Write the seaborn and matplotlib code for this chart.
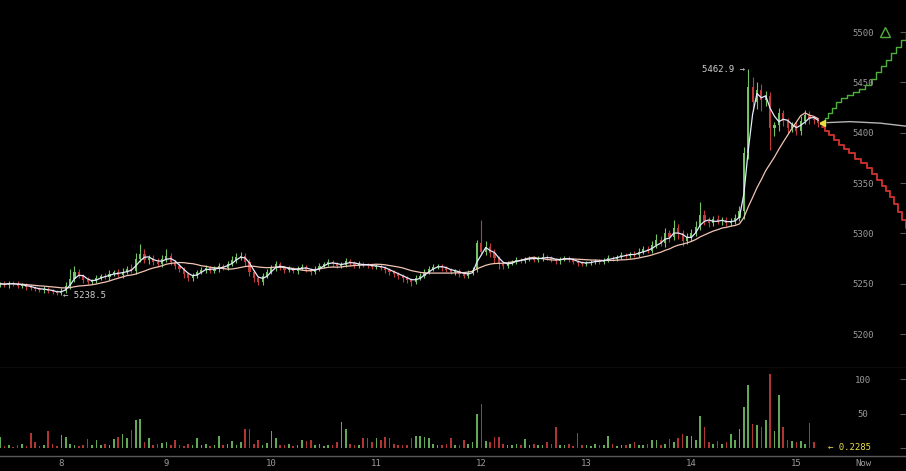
import numpy as np
import pandas as pd
import seaborn as sns
import matplotlib.pyplot as plt

# hourly candles, first one starts at day 7.42
start_day = 7.42
first_open = 5249

close = [5250, 5249, 5251, 5250, 5248, 5249, 5247, 5246, 5245, 5244, 5245, 5243, 5242, 5241,
         5243, 5248, 5255, 5262, 5258, 5254, 5252, 5253, 5256,
         5258, 5257, 5260, 5262, 5259, 5262, 5265, 5263, 5275,
         5280, 5274, 5276, 5272, 5270, 5275,
         5278, 5272, 5268, 5265, 5260, 5256, 5258,
         5262, 5264, 5266, 5263, 5265, 5268, 5266, 5270, 5274, 5277,
         5278, 5272, 5262, 5256, 5252, 5258, 5262,
         5266, 5270, 5266, 5264, 5265, 5263, 5266, 5267, 5264,
         5262, 5265, 5268, 5270, 5272, 5270, 5268, 5269, 5273, 5271, 5268, 5270, 5269, 5268, 5267,
         5268, 5266, 5264, 5262, 5260, 5258, 5256, 5254, 5252, 5256, 5258, 5262,
         5265, 5267, 5268, 5266, 5264, 5262, 5263, 5260, 5258, 5261, 5264, 5290,
         5282, 5286, 5281, 5276, 5270, 5268, 5271,
         5272, 5274, 5273, 5275, 5276, 5274, 5275, 5277, 5276, 5274, 5273, 5275, 5276, 5274, 5272, 5271, 5270,
         5271, 5272, 5273, 5272, 5274, 5276, 5275, 5277, 5279, 5278, 5280, 5279,
         5282, 5284, 5283, 5288, 5293, 5290, 5300, 5296, 5305, 5300, 5292, 5296,
         5300, 5306, 5318, 5312, 5310, 5314, 5312, 5313, 5310, 5312, 5315, 5322,
         5380, 5445, 5430, 5442, 5432, 5436,
         5405, 5408, 5420, 5412, 5405, 5408,
         5402, 5412, 5418, 5414, 5413, 5410]

upper_wick = [2, 3, 2, 2, 3, 2, 2, 3, 2, 2, 3, 2, 2, 2,
              3, 4, 10, 6, 3, 2, 3, 2, 3,
              2, 3, 4, 2, 3, 4, 3, 5, 6,
              9, 4, 3, 3, 4, 4,
              6, 3, 2, 3, 2, 2, 3,
              2, 3, 3, 2, 3, 3, 2, 3, 4, 4,
              4, 3, 3, 2, 2, 3, 3,
              3, 3, 2, 2, 3, 2, 2, 3, 2,
              2, 3, 3, 2, 3, 2, 2, 3, 3, 2, 2, 3, 2, 2, 2,
              2, 2, 2, 2, 2, 2, 2, 2, 2, 3, 3, 3,
              3, 3, 2, 2, 2, 2, 2, 2, 2, 3, 3, 3,
              23, 6, 4, 3, 2, 2, 2,
              2, 3, 2, 2, 2, 2, 3, 4, 2, 2, 2, 2, 2, 2, 2, 2, 2,
              2, 2, 2, 2, 2, 3, 2, 2, 3, 2, 2, 3,
              3, 3, 3, 4, 6, 4, 5, 3, 8, 4, 3, 4,
              4, 6, 13, 5, 4, 3, 4, 3, 3, 3, 4, 5,
              6, 17.9, 10, 8, 6, 5,
              4, 3, 5, 3, 3, 3,
              3, 5, 5, 4, 3, 2]

lower_wick = [2, 2, 3, 2, 2, 2, 3, 2, 2, 2, 3, 2, 2, 2,
              2.5, 2, 3, 3, 2, 3, 2, 2, 2,
              2, 2, 3, 2, 2, 3, 2, 2, 3,
              3, 3, 4, 3, 3, 3,
              3, 3, 3, 3, 4, 3, 3,
              2, 2, 3, 2, 2, 3, 2, 2, 2, 3,
              3, 4, 4, 4, 3, 3, 2,
              2, 3, 2, 3, 2, 2, 3, 2, 2,
              3, 2, 2, 2, 2, 3, 2, 2, 2, 3, 2, 2, 2, 2, 2,
              2, 2, 3, 3, 3, 3, 4, 3, 4, 2, 2, 2,
              2, 2, 2, 3, 2, 2, 3, 3, 2, 2, 2, 2,
              3, 3, 4, 5, 5, 3, 2,
              2, 2, 2, 2, 2, 2, 2, 2, 2, 2, 3, 3, 2, 2, 2, 3, 2,
              2, 2, 2, 2, 2, 2, 2, 2, 2, 2, 2, 2,
              2, 2, 2, 2, 3, 3, 4, 5, 3, 6, 5, 3,
              4, 3, 3, 4, 4, 3, 3, 4, 3, 3, 3, 3,
              8, 6, 8, 6, 10, 5,
              22, 8, 6, 5, 5, 4,
              4, 4, 3, 5, 4, 4]

volume = [16, 3, 5, 2, 4, 6, 3, 22, 8, 3, 4, 24, 6, 3,
          19, 16, 6, 4, 3, 5, 13, 4, 12,
          5, 6, 4, 13, 16, 20, 15, 26, 40,
          42, 8, 14, 5, 6, 7,
          9, 4, 11, 5, 3, 6, 4,
          15, 4, 6, 3, 5, 18, 4, 6, 10, 4,
          8, 27, 27, 6, 12, 5, 7,
          24, 15, 5, 4, 6, 3, 5, 12, 10,
          12, 4, 6, 3, 5, 4, 8, 37, 28, 6, 5, 4, 15, 14, 8,
          15, 12, 16, 15, 6, 5, 4, 5, 15, 17, 18, 16,
          15, 6, 4, 5, 6, 15, 4, 5, 12, 6, 8, 50,
          64, 10, 8, 16, 16, 6, 5,
          4, 6, 5, 13, 4, 6, 5, 4, 8, 6, 30, 5, 4, 6, 3, 22, 5,
          4, 3, 6, 5, 4, 18, 6, 3, 5, 4, 6, 8,
          5, 4, 6, 12, 12, 5, 6, 13, 8, 15, 20, 17,
          18, 12, 46, 30, 8, 6, 10, 6, 8, 20, 12, 27,
          60, 91, 35, 33, 30, 40,
          107, 25, 77, 30, 12, 10,
          8, 10, 6, 36, 8, 0.2285]

day_ticks = [8, 9, 10, 11, 12, 13, 14, 15]
day_labels = ['8', '9', '10', '11', '12', '13', '14', '15']
now_day = 15.638
price_ticks = [5200, 5250, 5300, 5350, 5400, 5450, 5500]
vol_ticks = [0, 50, 100]

# order book depth (right side)
ask_depth = [2, 5, 8, 12, 16, 21, 27, 33, 39, 45, 51, 56, 61, 66, 71, 76, 81, 86]
ask_price = [5410, 5415, 5420, 5425, 5430, 5434, 5437, 5440, 5443, 5447, 5453, 5460,
             5466, 5472, 5479, 5485, 5492, 5499]
bid_depth = [2, 5, 9, 14, 19, 24, 29, 35, 41, 47, 52, 57, 62, 66, 70, 74, 78, 82, 86]
bid_price = [5406, 5402, 5398, 5393, 5388, 5384, 5380, 5374, 5370, 5365, 5359, 5353,
             5347, 5342, 5336, 5329, 5321, 5313, 5305]
mid_depth = [7, 30, 60, 86]
mid_price = [5410, 5411, 5409.5, 5406.5]

df = pd.DataFrame({'close': close, 'up_w': upper_wick, 'lo_w': lower_wick, 'vol': volume})
df['t'] = start_day + np.arange(len(df)) / 24
df['open'] = df['close'].shift(1).fillna(first_open)
df['high'] = df[['open', 'close']].max(axis=1) + df['up_w']
df['low'] = df[['open', 'close']].min(axis=1) - df['lo_w']
df['up'] = df['close'] >= df['open']
df['fast'] = df['close'].rolling(3, min_periods=1).mean()
df['slow'] = df['close'].rolling(14, min_periods=1).mean()

sns.set_theme(style='dark', rc={'axes.facecolor': 'black', 'figure.facecolor': 'black',
                                'axes.grid': False})
plt.rcParams['font.family'] = ['DejaVu Sans Mono']

GREEN, RED = '#74c466', '#c23a3a'
VGREEN, VRED = '#62a857', '#b03535'
LABEL = '#9a9a9a'
xlim = (8 - 61 / 105, 8 + 845 / 105)
ylim = (5166.3, 5531.8)
vlim = (-11.6, 116)

fig = plt.figure(figsize=(9.06, 4.71), dpi=100)
ax = fig.add_axes([0, 103 / 471, 1, 368 / 471])
axv = fig.add_axes([0, 15 / 471, 1, 88 / 471])

cols = np.where(df['up'], GREEN, RED)
body_lo = df[['open', 'close']].min(axis=1)
body_h = (df['close'] - df['open']).abs().clip(lower=0.7)
ax.vlines(df['t'], df['low'], df['high'], colors=cols, linewidth=0.8)
ax.bar(df['t'], body_h, bottom=body_lo, width=0.02, color=cols, linewidth=0)
sns.lineplot(data=df, x='t', y='slow', ax=ax, color='#f2c4b4', linewidth=0.9)
sns.lineplot(data=df, x='t', y='fast', ax=ax, color='#e4eaff', linewidth=0.9)

imax = df['high'].idxmax()
imin = df['low'].idxmin()
ax.annotate(f"{df['high'][imax]:.1f} \u2192", xy=(df['t'][imax], df['high'][imax]),
            xytext=(-2, 0), textcoords='offset points', ha='right', va='center',
            color='#cfcfcf', fontsize=6.5)
ax.annotate(f"\u2190 {df['low'][imin]:.1f}", xy=(df['t'][imin], df['low'][imin]),
            xytext=(1, 0), textcoords='offset points', ha='left', va='center',
            color='#cfcfcf', fontsize=6.5)

ax.set_xlim(xlim)
ax.set_ylim(ylim)
ax.set_xlabel('')
ax.set_ylabel('')
ax.set_xticks([])
ax.set_yticks(price_ticks)
ax.set_yticklabels([str(p) for p in price_ticks])
ax.yaxis.tick_right()
ax.tick_params(axis='y', direction='in', length=4.3, width=0.8, color='#555555',
               labelcolor=LABEL, labelsize=6.5, pad=-31)
for lab in ax.get_yticklabels():
    lab.set_horizontalalignment('center')
for s in ['top', 'left', 'right']:
    ax.spines[s].set_visible(False)
ax.spines['bottom'].set_color('#3c3c3c')
ax.spines['bottom'].set_linewidth(1)

# volume panel
vcols = np.where(df['up'], VGREEN, VRED)
axv.bar(df['t'], df['vol'], width=0.016, color=vcols, linewidth=0)
axv.annotate(f"\u2190 {volume[-1]}", xy=(df['t'].iloc[-1], 0), xytext=(7, 0),
             textcoords='offset points', ha='left', va='center', color='#e8e04a',
             fontsize=6.5)
axv.set_xlim(xlim)
axv.set_ylim(vlim)
axv.set_xticks(day_ticks + [now_day])
axv.set_xticklabels(day_labels + ['Now'])
axv.tick_params(axis='x', length=0, labelcolor=LABEL, labelsize=6.5, pad=2)
axv.set_yticks(vol_ticks)
axv.set_yticklabels(['', '50', '100'])
axv.yaxis.tick_right()
axv.tick_params(axis='y', direction='in', length=4.3, width=0.8, color='#555555',
                labelcolor=LABEL, labelsize=6.5, pad=-31)
for lab in axv.get_yticklabels():
    lab.set_horizontalalignment('center')
for s in ['top', 'left', 'right']:
    axv.spines[s].set_visible(False)
axv.spines['bottom'].set_color('#5a5a5a')
axv.spines['bottom'].set_linewidth(1)

# depth overlay, also carries the inner tick dashes
axd = fig.add_axes([820 / 906, 103 / 471, 86 / 906, 368 / 471], facecolor='none')
sns.lineplot(x=ask_depth, y=ask_price, ax=axd, color='#4fae3c', linewidth=1,
             drawstyle='steps-post')
sns.lineplot(x=bid_depth, y=bid_price, ax=axd, color='#c4302c', linewidth=1.4,
             drawstyle='steps-post')
sns.lineplot(x=mid_depth, y=mid_price, ax=axd, color='#b5b5b5', linewidth=1)
axd.plot([2], [close[-1]], marker='<', color='#e6e040', markersize=5, linestyle='none')
axd.plot([65], [5500], marker='^', markerfacecolor='none', markeredgecolor='#4fae3c',
         markersize=7, linestyle='none')
axd.set_xlim(0, 86)
axd.set_ylim(ylim)
axd.set_xticks([])
axd.set_yticks(price_ticks)
axd.tick_params(axis='y', direction='in', length=4.3, width=0.8, color='#555555',
                labelleft=False)
for s in axd.spines.values():
    s.set_visible(False)

axvd = fig.add_axes([820 / 906, 15 / 471, 86 / 906, 88 / 471], facecolor='none')
axvd.set_xlim(0, 86)
axvd.set_ylim(vlim)
axvd.set_xticks([])
axvd.set_yticks([50, 100])
axvd.tick_params(axis='y', direction='in', length=4.3, width=0.8, color='#555555',
                 labelleft=False)
for s in axvd.spines.values():
    s.set_visible(False)

fig.savefig('out.png', dpi=100, facecolor='black')
